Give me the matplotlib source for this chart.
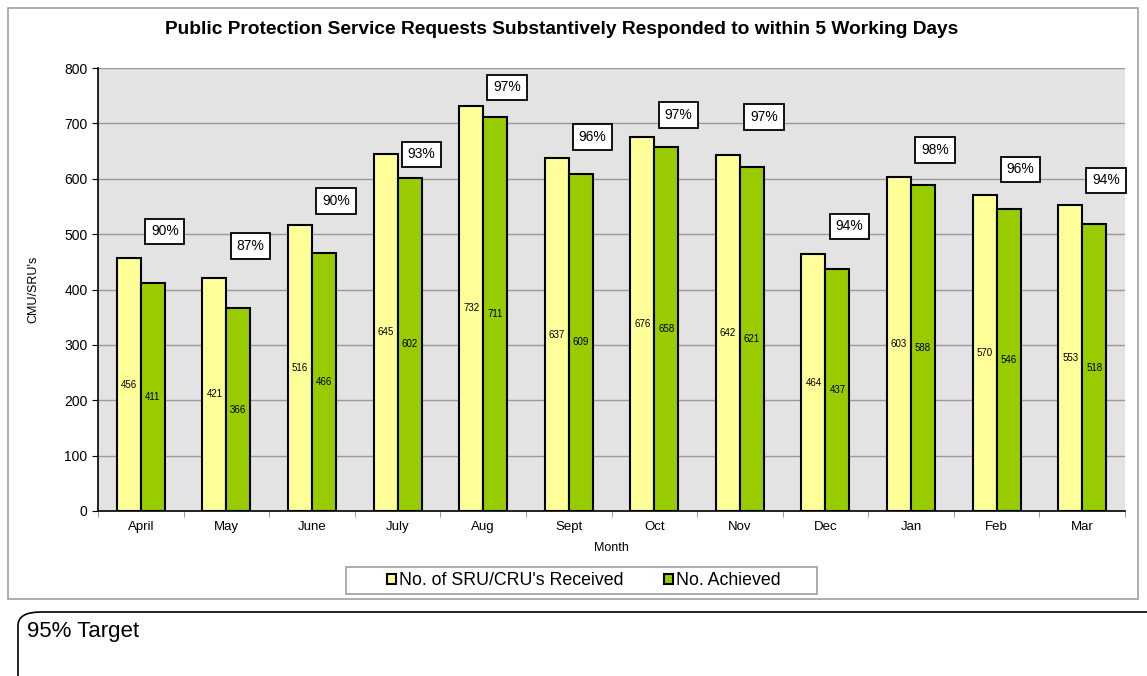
import matplotlib.pyplot as plt
import matplotlib.patches as mpatches
import numpy as np

plt.rcParams['font.family'] = ['Liberation Sans', 'DejaVu Sans']

months = ['April', 'May', 'June', 'July', 'Aug', 'Sept', 'Oct', 'Nov', 'Dec', 'Jan', 'Feb', 'Mar']
received = [456, 421, 516, 645, 732, 637, 676, 642, 464, 603, 570, 553]
achieved = [411, 366, 466, 602, 711, 609, 658, 621, 437, 588, 546, 518]
pct_labels = ['90%', '87%', '90%', '93%', '97%', '96%', '97%', '97%', '94%', '98%', '96%', '94%']
pct_label_y = [505, 478, 560, 644, 765, 675, 715, 711, 514, 652, 617, 597]

W, H = 1147, 676
fig = plt.figure(figsize=(W / 100, H / 100), dpi=100)

# outer chart frame
fig.patches.append(mpatches.Rectangle((8 / W, 1 - 599 / H), 1130 / W, 591 / H,
                                      transform=fig.transFigure, fill=False,
                                      edgecolor='#a0a0a0', linewidth=1.2))

# target note box along the bottom
fig.patches.append(mpatches.FancyBboxPatch((18 / W, -0.05), 1.2, 1 - 612 / H + 0.05,
                                           boxstyle='round,pad=0,rounding_size=0.02',
                                           transform=fig.transFigure, fill=False,
                                           edgecolor='black', linewidth=1.2))
fig.text(27 / W, 1 - 632 / H, '95% Target', fontsize=16, va='center', ha='left')

ax = fig.add_axes([98 / W, 1 - 511 / H, (1125 - 98) / W, (511 - 68) / H])
ax.set_facecolor('#e3e3e3')

x = np.arange(len(months))
bw = 0.28
b1 = ax.bar(x - bw / 2, received, bw, color='#ffff99', edgecolor='black', linewidth=1.5,
            label="No. of SRU/CRU's Received", zorder=3)
b2 = ax.bar(x + bw / 2, achieved, bw, color='#99cc00', edgecolor='black', linewidth=1.5,
            label='No. Achieved', zorder=3)

for i in range(len(months)):
    ax.text(x[i] - bw / 2, received[i] / 2, str(received[i]), ha='center', va='center',
            fontsize=7, zorder=4)
    ax.text(x[i] + bw / 2, achieved[i] / 2, str(achieved[i]), ha='center', va='center',
            fontsize=7, zorder=4)
    ax.text(x[i] + bw, pct_label_y[i], pct_labels[i], ha='center', va='center', fontsize=10,
            zorder=5, bbox=dict(boxstyle='square,pad=0.42', facecolor='white',
                                edgecolor='black', linewidth=1.3))

ax.set_xlim(-0.5, len(months) - 0.5)
ax.set_ylim(0, 800)
ax.set_yticks(range(0, 801, 100))
ax.yaxis.grid(True, color='#9a9a9a', linewidth=1)
ax.set_axisbelow(True)
ax.tick_params(axis='y', labelsize=10, length=4, direction='out')
ax.set_xticks(x)
ax.set_xticklabels(months, fontsize=9.5)
ax.tick_params(axis='x', length=0, pad=7)
ax.set_xticks(np.arange(-0.5, len(months)), minor=True)
ax.tick_params(axis='x', which='minor', length=4, color='#888888')
for s in ['top', 'right']:
    ax.spines[s].set_visible(False)
ax.spines['left'].set_linewidth(1.2)
ax.spines['bottom'].set_linewidth(1.2)

ax.set_ylabel("CMU/SRU's", fontsize=9, labelpad=18)
ax.set_xlabel('Month', fontsize=9, labelpad=7)

fig.text(562 / W, 1 - 30 / H,
         'Public Protection Service Requests Substantively Responded to within 5 Working Days',
         ha='center', va='center', fontsize=13.8, fontweight='bold')

# legend with its own wider frame
fig.patches.append(mpatches.Rectangle((346 / W, 1 - 594 / H), (817 - 346) / W, 27 / H,
                                      transform=fig.transFigure, facecolor='white',
                                      edgecolor='#a0a0a0', linewidth=1.2))
fig.legend(handles=[b1, b2], loc='center', bbox_to_anchor=(584 / W, 1 - 580.5 / H), ncol=2,
           fontsize=12.8, frameon=False, handlelength=0.5, handleheight=0.5,
           handletextpad=0.15, columnspacing=2.3, borderpad=0, borderaxespad=0)

fig.savefig('out.png', dpi=100)
plt.close()
